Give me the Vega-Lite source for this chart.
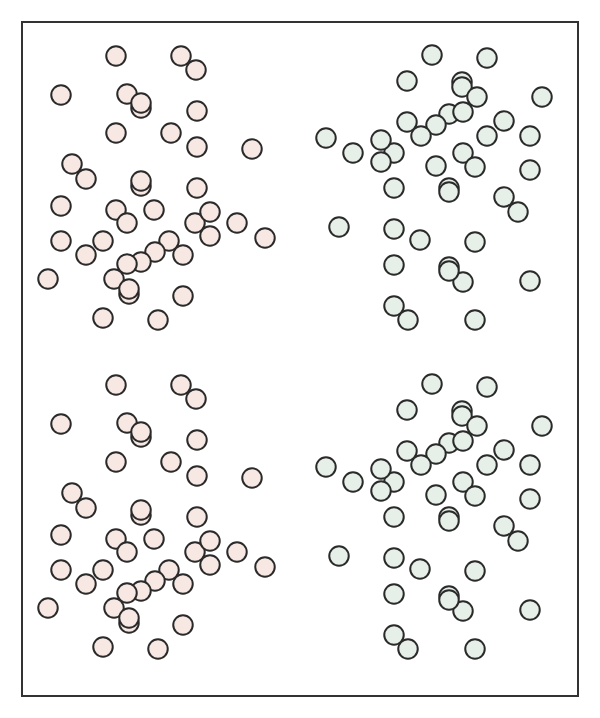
{
  "$schema": "https://vega.github.io/schema/vega-lite/v6.json",
  "width": 556,
  "height": 674,
  "autosize": {"type": "none"},
  "padding": {"left": 22, "top": 22, "right": 22, "bottom": 22},
  "background": "white",
  "config": {"view": {"stroke": "#333333", "strokeWidth": 2}},
  "data": {"values": [
    {"x":116,"y":56,"g":"a"},{"x":181,"y":56,"g":"a"},{"x":196,"y":70,"g":"a"},{"x":61,"y":95,"g":"a"},{"x":127,"y":94,"g":"a"},{"x":141,"y":108,"g":"a"},{"x":141,"y":103,"g":"a"},{"x":197,"y":111,"g":"a"},{"x":116,"y":133,"g":"a"},{"x":171,"y":133,"g":"a"},{"x":197,"y":147,"g":"a"},{"x":252,"y":149,"g":"a"},{"x":72,"y":164,"g":"a"},{"x":86,"y":179,"g":"a"},{"x":141,"y":186,"g":"a"},{"x":141,"y":181,"g":"a"},{"x":197,"y":188,"g":"a"},{"x":61,"y":206,"g":"a"},{"x":116,"y":210,"g":"a"},{"x":154,"y":210,"g":"a"},{"x":127,"y":223,"g":"a"},{"x":195,"y":223,"g":"a"},{"x":210,"y":212,"g":"a"},{"x":237,"y":223,"g":"a"},{"x":210,"y":236,"g":"a"},{"x":265,"y":238,"g":"a"},{"x":61,"y":241,"g":"a"},{"x":103,"y":241,"g":"a"},{"x":169,"y":241,"g":"a"},{"x":86,"y":255,"g":"a"},{"x":155,"y":252,"g":"a"},{"x":141,"y":262,"g":"a"},{"x":183,"y":255,"g":"a"},{"x":127,"y":264,"g":"a"},{"x":48,"y":279,"g":"a"},{"x":114,"y":279,"g":"a"},{"x":129,"y":294,"g":"a"},{"x":129,"y":289,"g":"a"},{"x":183,"y":296,"g":"a"},{"x":103,"y":318,"g":"a"},{"x":158,"y":320,"g":"a"},
    {"x":116,"y":385,"g":"a"},{"x":181,"y":385,"g":"a"},{"x":196,"y":399,"g":"a"},{"x":61,"y":424,"g":"a"},{"x":127,"y":423,"g":"a"},{"x":141,"y":437,"g":"a"},{"x":141,"y":432,"g":"a"},{"x":197,"y":440,"g":"a"},{"x":116,"y":462,"g":"a"},{"x":171,"y":462,"g":"a"},{"x":197,"y":476,"g":"a"},{"x":252,"y":478,"g":"a"},{"x":72,"y":493,"g":"a"},{"x":86,"y":508,"g":"a"},{"x":141,"y":515,"g":"a"},{"x":141,"y":510,"g":"a"},{"x":197,"y":517,"g":"a"},{"x":61,"y":535,"g":"a"},{"x":116,"y":539,"g":"a"},{"x":154,"y":539,"g":"a"},{"x":127,"y":552,"g":"a"},{"x":195,"y":552,"g":"a"},{"x":210,"y":541,"g":"a"},{"x":237,"y":552,"g":"a"},{"x":210,"y":565,"g":"a"},{"x":265,"y":567,"g":"a"},{"x":61,"y":570,"g":"a"},{"x":103,"y":570,"g":"a"},{"x":169,"y":570,"g":"a"},{"x":86,"y":584,"g":"a"},{"x":155,"y":581,"g":"a"},{"x":141,"y":591,"g":"a"},{"x":183,"y":584,"g":"a"},{"x":127,"y":593,"g":"a"},{"x":48,"y":608,"g":"a"},{"x":114,"y":608,"g":"a"},{"x":129,"y":623,"g":"a"},{"x":129,"y":618,"g":"a"},{"x":183,"y":625,"g":"a"},{"x":103,"y":647,"g":"a"},{"x":158,"y":649,"g":"a"},
    {"x":432,"y":55,"g":"b"},{"x":487,"y":58,"g":"b"},{"x":407,"y":81,"g":"b"},{"x":462,"y":82,"g":"b"},{"x":462,"y":87,"g":"b"},{"x":477,"y":97,"g":"b"},{"x":542,"y":97,"g":"b"},{"x":449,"y":114,"g":"b"},{"x":463,"y":112,"g":"b"},{"x":407,"y":122,"g":"b"},{"x":436,"y":125,"g":"b"},{"x":421,"y":136,"g":"b"},{"x":504,"y":121,"g":"b"},{"x":326,"y":138,"g":"b"},{"x":394,"y":153,"g":"b"},{"x":381,"y":140,"g":"b"},{"x":487,"y":136,"g":"b"},{"x":530,"y":136,"g":"b"},{"x":353,"y":153,"g":"b"},{"x":463,"y":153,"g":"b"},{"x":381,"y":162,"g":"b"},{"x":436,"y":166,"g":"b"},{"x":475,"y":167,"g":"b"},{"x":530,"y":170,"g":"b"},{"x":394,"y":188,"g":"b"},{"x":449,"y":188,"g":"b"},{"x":449,"y":192,"g":"b"},{"x":504,"y":197,"g":"b"},{"x":518,"y":212,"g":"b"},{"x":339,"y":227,"g":"b"},{"x":394,"y":229,"g":"b"},{"x":420,"y":240,"g":"b"},{"x":475,"y":242,"g":"b"},{"x":394,"y":265,"g":"b"},{"x":449,"y":267,"g":"b"},{"x":463,"y":282,"g":"b"},{"x":449,"y":271,"g":"b"},{"x":530,"y":281,"g":"b"},{"x":394,"y":306,"g":"b"},{"x":408,"y":320,"g":"b"},{"x":475,"y":320,"g":"b"},
    {"x":432,"y":384,"g":"b"},{"x":487,"y":387,"g":"b"},{"x":407,"y":410,"g":"b"},{"x":462,"y":411,"g":"b"},{"x":462,"y":416,"g":"b"},{"x":477,"y":426,"g":"b"},{"x":542,"y":426,"g":"b"},{"x":449,"y":443,"g":"b"},{"x":463,"y":441,"g":"b"},{"x":407,"y":451,"g":"b"},{"x":436,"y":454,"g":"b"},{"x":421,"y":465,"g":"b"},{"x":504,"y":450,"g":"b"},{"x":326,"y":467,"g":"b"},{"x":394,"y":482,"g":"b"},{"x":381,"y":469,"g":"b"},{"x":487,"y":465,"g":"b"},{"x":530,"y":465,"g":"b"},{"x":353,"y":482,"g":"b"},{"x":463,"y":482,"g":"b"},{"x":381,"y":491,"g":"b"},{"x":436,"y":495,"g":"b"},{"x":475,"y":496,"g":"b"},{"x":530,"y":499,"g":"b"},{"x":394,"y":517,"g":"b"},{"x":449,"y":517,"g":"b"},{"x":449,"y":521,"g":"b"},{"x":504,"y":526,"g":"b"},{"x":518,"y":541,"g":"b"},{"x":339,"y":556,"g":"b"},{"x":394,"y":558,"g":"b"},{"x":420,"y":569,"g":"b"},{"x":475,"y":571,"g":"b"},{"x":394,"y":594,"g":"b"},{"x":449,"y":596,"g":"b"},{"x":463,"y":611,"g":"b"},{"x":449,"y":600,"g":"b"},{"x":530,"y":610,"g":"b"},{"x":394,"y":635,"g":"b"},{"x":408,"y":649,"g":"b"},{"x":475,"y":649,"g":"b"}
  ]},
  "mark": {"type": "point", "shape": "circle", "filled": true, "size": 380, "stroke": "#2a2a2a", "strokeWidth": 2, "opacity": 1},
  "encoding": {
    "x": {"field": "x", "type": "quantitative", "scale": {"domain": [22, 578], "nice": false, "zero": false}, "axis": null},
    "y": {"field": "y", "type": "quantitative", "scale": {"domain": [22, 696], "nice": false, "zero": false, "reverse": true}, "axis": null},
    "fill": {"field": "g", "type": "nominal", "scale": {"domain": ["a", "b"], "range": ["#f7e8e3", "#e6efe8"]}, "legend": null}
  }
}
